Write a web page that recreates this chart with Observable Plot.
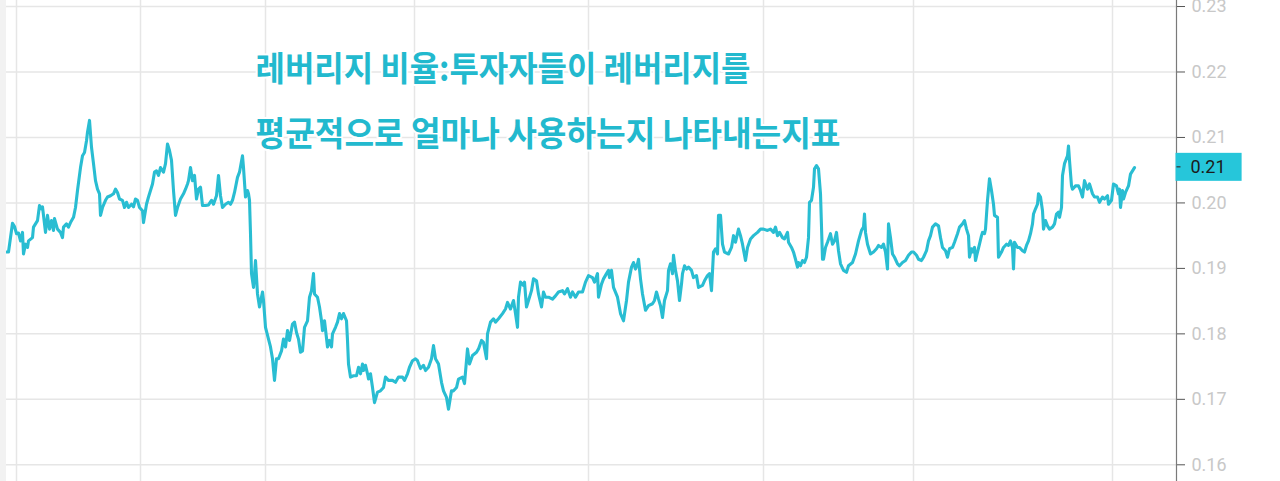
<!DOCTYPE html>
<html>
<head>
<meta charset="utf-8">
<script src="https://cdn.jsdelivr.net/npm/d3@7"></script>
<script src="https://cdn.jsdelivr.net/npm/@observablehq/plot@0.6"></script>
<style>
  html, body { margin: 0; padding: 0; background: #fff; }
  #wrap { position: relative; width: 1280px; height: 481px; overflow: hidden; }
  #edge { position: absolute; left: 0; top: 0; width: 6px; height: 481px; background: #f2f2f2; }
</style>
</head>
<body>
<div id="wrap"><div id="chart"></div><div id="edge"></div></div>
<script>
// ---- data ----
const titleLines = [
  "레버리지 비율:투자자들이 레버리지를",
  "평균적으로 얼마나 사용하는지 나타내는지표"
];
const yTicks = [0.16, 0.17, 0.18, 0.19, 0.20, 0.21, 0.22, 0.23];
const xGridDays = [16, 140, 265, 414, 588, 763, 913, 1112];
const days = [
6,8,12,14,16,18,20,22,23,25,27,28,32,33,37,39,41,42,45,47,49,51,53,54,57,60,62,63,66,68,70,73,75,77,80,82,84,86,87,89,91,93,95,97,99,100,102,105,107,110,113,115,117,119,122,124,126,128,131,133,135,137,139,142,143,146,148,152,154,156,158,160,163,165,167,169,171,173,175,177,180,183,185,187,188,190,192,194,196,198,200,202,205,208,211,213,216,218,220,222,225,228,230,232,234,237,239,242,243,245,247,248,249,250,251,253,255,257,259,262,263,265,268,270,272,274,276,278,281,283,285,287,289,292,294,296,298,300,302,304,307,309,311,313,314,317,319,321,322,324,327,329,331,332,335,337,339,341,343,346,347,348,350,353,356,358,360,362,363,365,367,368,370,372,374,377,380,383,385,388,392,395,398,402,404,407,409,412,415,417,420,423,425,428,431,433,435,438,441,443,446,448,451,453,456,458,462,464,467,469,472,476,478,481,483,486,487,490,493,495,498,502,505,507,510,513,515,517,518,520,523,524,526,528,531,533,536,538,541,543,545,548,552,555,558,562,564,567,570,572,575,578,582,585,588,592,594,597,598,601,603,606,608,609,611,613,617,620,623,626,628,631,633,635,637,638,640,642,645,648,652,654,656,658,660,662,664,667,668,670,672,673,675,677,679,681,682,684,686,688,691,693,696,698,702,704,707,709,711,713,715,717,718,720,722,724,728,731,733,735,738,740,742,745,747,750,753,757,760,763,767,770,773,775,777,779,782,784,787,788,791,793,795,797,798,800,802,804,806,808,809,811,813,814,816,818,820,822,823,825,827,830,832,834,836,838,840,843,846,848,852,855,858,861,863,864,865,867,870,873,876,878,881,883,885,887,888,890,892,894,897,899,902,905,908,911,913,916,918,921,923,926,928,930,932,935,938,940,942,945,947,949,952,954,957,959,962,964,966,968,969,971,972,974,975,977,979,981,982,984,985,987,989,991,993,994,997,998,1001,1003,1006,1008,1010,1012,1013,1014,1017,1019,1022,1024,1026,1028,1030,1032,1033,1035,1037,1038,1040,1042,1043,1045,1047,1049,1052,1054,1056,1058,1059,1061,1062,1064,1067,1068,1069,1071,1072,1075,1078,1080,1082,1084,1087,1089,1092,1094,1097,1099,1102,1104,1107,1108,1111,1113,1116,1118,1119,1120,1122,1123,1125,1128,1130,1132,1134
];
const ratio = [
.1925,.1925,.1969,.1964,.1953,.1954,.1942,.1955,.1922,.1937,.1932,.1942,.1947,.1963,.1973,.1996,.1991,.1994,.1955,.1981,.1960,.1973,.1958,.1976,.1960,.1955,.1947,.1963,.1968,.1963,.1970,.1978,.1993,.2019,.2054,.2072,.2077,.2095,.2108,.2126,.2085,.2060,.2034,.2021,.2014,.1981,.1993,.2004,.2009,.2011,.2014,.2021,.2016,.2006,.2004,.1993,.2001,.1993,.1998,.1994,.2006,.2004,.1993,.1988,.1970,.1998,.2009,.2029,.2047,.2049,.2042,.2054,.2047,.2060,.2090,.2080,.2065,.2019,.1981,.1993,.2006,.2014,.2021,.2029,.2034,.2054,.2034,.2042,.2006,.2021,.2024,.1996,.1996,.1997,.2004,.1998,.2011,.2042,.2011,.1993,.1998,.2001,.1998,.2004,.2016,.2039,.2047,.2072,.2054,.2009,.2019,.2014,.2004,.1953,.1892,.1871,.1912,.1861,.1841,.1864,.1851,.1810,.1792,.1780,.1762,.1729,.1762,.1762,.1774,.1792,.1780,.1805,.1790,.1815,.1818,.1802,.1792,.1772,.1774,.1810,.1820,.1856,.1866,.1892,.1861,.1856,.1841,.1820,.1805,.1820,.1780,.1790,.1780,.1800,.1810,.1818,.1831,.1823,.1831,.1820,.1790,.1754,.1734,.1736,.1736,.1749,.1739,.1754,.1744,.1752,.1739,.1731,.1739,.1718,.1695,.1711,.1713,.1718,.1734,.1729,.1729,.1726,.1734,.1734,.1729,.1739,.1749,.1759,.1762,.1759,.1747,.1752,.1744,.1749,.1762,.1782,.1762,.1754,.1726,.1713,.1703,.1685,.1713,.1713,.1718,.1731,.1734,.1724,.1777,.1754,.1767,.1772,.1777,.1790,.1787,.1762,.1800,.1818,.1823,.1818,.1823,.1831,.1838,.1848,.1838,.1851,.1831,.1810,.1856,.1879,.1874,.1879,.1841,.1851,.1866,.1884,.1881,.1861,.1841,.1864,.1856,.1856,.1853,.1858,.1864,.1866,.1861,.1869,.1856,.1864,.1856,.1864,.1864,.1879,.1889,.1886,.1879,.1892,.1856,.1876,.1884,.1892,.1897,.1886,.1897,.1871,.1856,.1831,.1820,.1851,.1879,.1902,.1909,.1899,.1907,.1914,.1884,.1861,.1836,.1843,.1846,.1851,.1864,.1853,.1843,.1825,.1851,.1866,.1897,.1907,.1892,.1920,.1897,.1881,.1851,.1876,.1892,.1904,.1899,.1902,.1897,.1886,.1889,.1871,.1874,.1881,.1889,.1892,.1866,.1925,.1930,.1922,.1981,.1981,.1937,.1925,.1922,.1932,.1950,.1940,.1960,.1950,.1937,.1912,.1932,.1945,.1950,.1955,.1960,.1960,.1958,.1960,.1955,.1963,.1950,.1955,.1947,.1945,.1955,.1940,.1932,.1925,.1914,.1902,.1909,.1904,.1912,.1909,.1917,.1947,.2001,.2004,.2024,.2052,.2057,.2052,.2014,.1914,.1914,.1932,.1940,.1953,.1937,.1942,.1955,.1927,.1907,.1897,.1894,.1904,.1909,.1922,.1942,.1958,.1963,.1983,.1955,.1937,.1922,.1925,.1930,.1935,.1932,.1937,.1925,.1899,.1968,.1947,.1922,.1917,.1907,.1904,.1909,.1912,.1920,.1925,.1925,.1920,.1914,.1912,.1917,.1927,.1942,.1950,.1963,.1968,.1965,.1947,.1932,.1927,.1917,.1930,.1932,.1940,.1953,.1963,.1968,.1973,.1960,.1950,.1917,.1930,.1925,.1932,.1912,.1925,.1937,.1950,.1955,.1953,.1960,.2004,.2037,.2019,.1998,.1981,.1978,.1917,.1925,.1932,.1937,.1935,.1942,.1932,.1899,.1940,.1932,.1932,.1927,.1925,.1935,.1942,.1953,.1968,.1983,.1991,.1998,.2014,.2009,.1988,.1960,.1973,.1965,.1960,.1963,.1968,.1983,.1986,.1978,.1993,.2042,.2060,.2072,.2087,.2065,.2026,.2021,.2026,.2026,.2019,.2009,.2034,.2021,.2029,.2014,.2009,.2009,.2001,.2009,.2006,.2011,.1998,.2004,.2029,.2026,.2014,.2021,.1993,.2019,.2006,.2016,.2026,.2044,.2049,.2054
];

const data = days.map((d, i) => ({day: d, ratio: ratio[i]}));
const last = data[data.length - 1];
const teal = "#29bdd2";
const fmt = d3.format(".2f");

const chart = Plot.plot({
  width: 1280,
  height: 481,
  marginTop: 0,
  marginBottom: 0,
  marginLeft: 0,
  marginRight: 104,
  style: {fontFamily: "Roboto, 'Noto Sans', sans-serif", background: "#fff", overflow: "visible"},
  x: {domain: [0, 1176], axis: null},
  y: {domain: [0.15745, 0.23092], axis: null},
  marks: [
    Plot.gridX(xGridDays, {stroke: "#e6e6e6", strokeOpacity: 1, strokeWidth: 1.5}),
    Plot.gridY(yTicks, {stroke: "#e6e6e6", strokeOpacity: 1, strokeWidth: 1.5}),
    Plot.frame({anchor: "right", stroke: "#7a7a7a", strokeWidth: 1.2}),
    Plot.axisY(yTicks, {
      anchor: "right", tickSize: 8, tickPadding: 7, tickFormat: fmt,
      stroke: "#555", fill: "#c8c8c8", fontSize: 18, label: null
    }),
    Plot.line(data, {x: "day", y: "ratio", stroke: teal, strokeWidth: 3.1, strokeLinejoin: "round"}),
    Plot.text([titleLines[0]], {
      frameAnchor: "top-left", dx: 255, dy: 70, text: d => d, textAnchor: "start", lineAnchor: "middle",
      fill: "#22b9ce", stroke: "white", strokeWidth: 4, fontSize: 34, fontWeight: "bold",
      fontFamily: "'Noto Sans CJK KR', sans-serif", className: "title-1"
    }),
    Plot.text([titleLines[1]], {
      frameAnchor: "top-left", dx: 255, dy: 135, text: d => d, textAnchor: "start", lineAnchor: "middle",
      fill: "#22b9ce", stroke: "white", strokeWidth: 4, fontSize: 34, fontWeight: "bold",
      fontFamily: "'Noto Sans CJK KR', sans-serif", className: "title-2"
    }),
    Plot.text([last], {
      y: "ratio", frameAnchor: "right", dx: 14, text: d => fmt(d.ratio), textAnchor: "start",
      fill: "#1b1b1b", fontSize: 18, className: "last-label"
    })
  ]
});

document.getElementById("chart").append(chart);

// condensed title lines, as in the reference
const svg = d3.select(chart);
svg.selectAll(".title-1 text").attr("textLength", 495).attr("lengthAdjust", "spacingAndGlyphs");
svg.selectAll(".title-2 text").attr("textLength", 585).attr("lengthAdjust", "spacingAndGlyphs");

// background box for the last value label
svg.selectAll(".last-label text").each(function() {
  const bb = this.getBBox();
  const tr = this.getAttribute("transform");
  const cy = bb.y + bb.height / 2;
  const r = d3.select(this.parentNode).insert("rect", () => this)
    .attr("x", bb.x - 15).attr("y", cy - 14)
    .attr("width", bb.width + 31).attr("height", 28)
    .attr("fill", "#26c6da");
  const t = d3.select(this.parentNode).insert("line", () => this)
    .attr("x1", bb.x - 14).attr("x2", bb.x - 10).attr("y1", cy).attr("y2", cy)
    .attr("stroke", "#333").attr("stroke-width", 1.2);
  if (tr) { r.attr("transform", tr); t.attr("transform", tr); }
});
</script>
</body>
</html>
